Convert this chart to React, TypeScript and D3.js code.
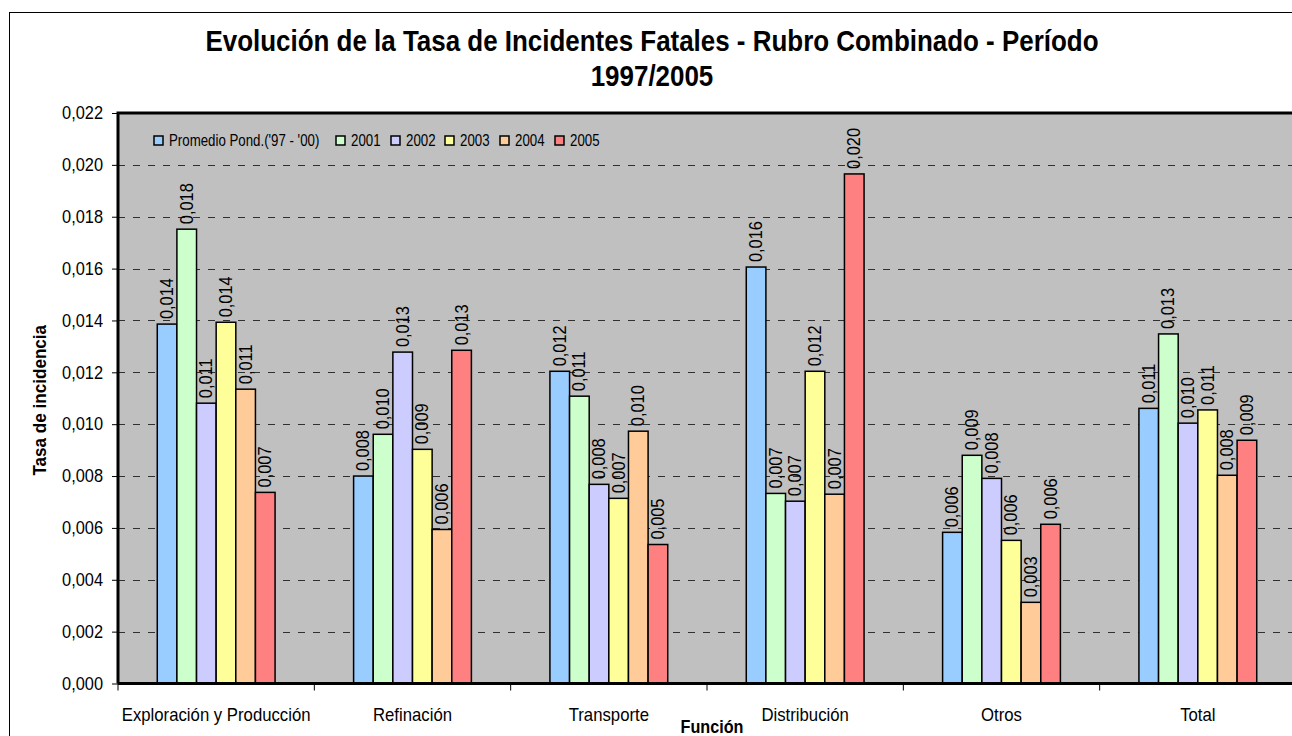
import React, {useEffect, useRef} from 'react'
import * as d3 from 'd3';

const categories = ['Exploración y Producción', 'Refinación', 'Transporte', 'Distribución', 'Otros', 'Total'];
const seriesNames = ["Promedio Pond.('97 - '00)", '2001', '2002', '2003', '2004', '2005'];
const seriesColors = ['#99CCFF', '#CCFFCC', '#CCCCFF', '#FFFF99', '#FFCC99', '#FF8080'];

// one array per series, in category order
const promedio = [0.01386, 0.0080, 0.01204, 0.01606, 0.00583, 0.01061];
const y2001 = [0.01752, 0.00961, 0.01108, 0.00733, 0.0088, 0.01348];
const y2002 = [0.01081, 0.01278, 0.00768, 0.00703, 0.00791, 0.01004];
const y2003 = [0.01393, 0.00903, 0.00714, 0.01204, 0.00552, 0.01055];
const y2004 = [0.01135, 0.00594, 0.00973, 0.0073, 0.00313, 0.00803];
const y2005 = [0.00737, 0.01285, 0.00536, 0.01965, 0.00614, 0.00938];

const yTicks = [0, 0.002, 0.004, 0.006, 0.008, 0.010, 0.012, 0.014, 0.016, 0.018, 0.020, 0.022];

const FONT = '"Liberation Sans", Arial, sans-serif';

export default function App(){
    const svgRef = useRef<SVGSVGElement>(null);

    const W = 1292, H = 736;
    const plot = {left: 118, top: 113, right: 1296, bottom: 683.5};

    useEffect(() => {
        const svg = d3.select(svgRef.current);
        svg.selectAll('*').remove();

        const series = [promedio, y2001, y2002, y2003, y2004, y2005];
        const data = categories.map((c, i) => ({
            cat: c,
            vals: series.map((s, j) => ({key: seriesNames[j], value: s[i], color: seriesColors[j]}))
        }));

        const xscale = d3.scaleBand()
            .domain(categories)
            .range([plot.left, plot.right])
            .padding(0);

        const groupW = xscale.bandwidth() * 0.6;
        const x1 = d3.scaleBand()
            .domain(seriesNames)
            .range([0, groupW])
            .padding(0);

        const yscale = d3.scaleLinear()
            .domain([0, 0.022])
            .range([plot.bottom, plot.top]);

        const fmt = (v: number) => d3.format('.3f')(v).replace('.', ',');

        // narrow text: the page has no Arial Narrow, so squeeze Liberation Sans
        const label = (parent: any, x: number, y: number, txt: string, opts: any = {}) =>
            parent.append('text')
                .attr('transform', `translate(${x},${y})${opts.rotate ? ' rotate(-90)' : ''} scale(${opts.sx || 0.9},1)`)
                .attr('text-anchor', opts.anchor || 'start')
                .attr('font-family', FONT)
                .attr('font-weight', opts.bold ? 'bold' : 'normal')
                .attr('font-size', (opts.size || 18) + 'px')
                .attr('fill', 'black')
                .text(txt);

        // outer chart border
        svg.append('rect')
            .attr('x', 9.5).attr('y', 12.5)
            .attr('width', W + 20).attr('height', H + 20)
            .attr('fill', 'white').attr('stroke', 'black').attr('stroke-width', 1);

        // title
        label(svg, 652, 51, 'Evolución de la Tasa de Incidentes Fatales - Rubro Combinado - Período',
            {anchor: 'middle', bold: true, size: 29, sx: 0.895});
        label(svg, 652, 86, '1997/2005', {anchor: 'middle', bold: true, size: 29, sx: 0.895});

        // plot area
        svg.append('rect')
            .attr('x', plot.left).attr('y', plot.top)
            .attr('width', plot.right - plot.left).attr('height', plot.bottom - plot.top)
            .attr('fill', '#C0C0C0');

        // gridlines
        svg.append('g')
            .selectAll('line')
            .data(yTicks.filter(t => t > 0 && t < 0.022))
            .join('line')
            .attr('x1', plot.left).attr('x2', plot.right)
            .attr('y1', d => Math.round(yscale(d)) + 0.5)
            .attr('y2', d => Math.round(yscale(d)) + 0.5)
            .attr('stroke', '#303030')
            .attr('stroke-width', 1)
            .attr('stroke-dasharray', '7,8');

        // bars
        const groups = svg.append('g')
            .selectAll('g')
            .data(data)
            .join('g')
            .attr('transform', d => `translate(${xscale(d.cat)! + (xscale.bandwidth() - groupW) / 2},0)`);

        groups.selectAll('rect')
            .data(d => d.vals)
            .join('rect')
            .attr('x', d => x1(d.key)!)
            .attr('y', d => yscale(d.value))
            .attr('width', x1.bandwidth())
            .attr('height', d => plot.bottom - yscale(d.value))
            .attr('fill', d => d.color)
            .attr('stroke', 'black')
            .attr('stroke-width', 1.5);

        // value labels (rotated)
        groups.selectAll('text')
            .data(d => d.vals)
            .join('text')
            .attr('transform', d => `translate(${x1(d.key)! + x1.bandwidth() / 2 + 6},${yscale(d.value) - 5}) rotate(-90) scale(0.91,1)`)
            .attr('font-family', FONT)
            .attr('font-size', '18px')
            .attr('fill', 'black')
            .text(d => fmt(d.value));

        // plot border
        svg.append('path')
            .attr('d', `M${plot.left},${plot.bottom} V${plot.top} H${plot.right + 10}`)
            .attr('fill', 'none').attr('stroke', 'black').attr('stroke-width', 3);

        // y axis
        const yaxis = d3.axisLeft(yscale)
            .tickValues(yTicks)
            .tickFormat(d => fmt(+d))
            .tickSize(6)
            .tickPadding(0);
        const yg = svg.append('g')
            .attr('transform', `translate(${plot.left},0)`)
            .call(yaxis);
        yg.select('.domain').remove();
        yg.selectAll('text')
            .attr('x', 0)
            .attr('transform', 'translate(-15,0) scale(0.91,1)')
            .attr('font-family', FONT)
            .attr('font-size', '18px')
            .attr('fill', 'black');
        yg.selectAll('line').attr('stroke', 'black');

        // x axis (ticks between categories)
        const boundaries = categories.map(c => xscale(c)!);
        svg.append('line')
            .attr('x1', plot.left).attr('x2', plot.right + 10)
            .attr('y1', plot.bottom).attr('y2', plot.bottom)
            .attr('stroke', 'black').attr('stroke-width', 3);
        svg.append('g')
            .selectAll('line')
            .data(boundaries)
            .join('line')
            .attr('x1', d => d).attr('x2', d => d)
            .attr('y1', plot.bottom).attr('y2', plot.bottom + 7)
            .attr('stroke', 'black').attr('stroke-width', 1);
        const xg = svg.append('g');
        categories.forEach(c => {
            label(xg, xscale(c)! + xscale.bandwidth() / 2, 721, c, {anchor: 'middle', sx: 0.93});
        });

        // axis titles
        label(svg, 712, 733, 'Función', {anchor: 'middle', bold: true, sx: 0.9});
        label(svg, 46, (plot.top + plot.bottom) / 2 + 2, 'Tasa de incidencia',
            {anchor: 'middle', bold: true, rotate: true, sx: 0.95});

        // legend
        const legendX = [154, 336, 391, 445, 500, 555];
        const lg = svg.append('g')
            .selectAll('g')
            .data(seriesNames)
            .join('g')
            .attr('transform', (d, i) => `translate(${legendX[i]},${136})`);
        lg.append('rect')
            .attr('width', 9).attr('height', 9)
            .attr('fill', (d, i) => seriesColors[i])
            .attr('stroke', 'black').attr('stroke-width', 1.5);
        lg.append('text')
            .attr('transform', 'translate(15,10) scale(0.83,1)')
            .attr('font-family', FONT)
            .attr('font-size', '16px')
            .attr('fill', 'black')
            .text(d => d);
    }, []);

    return (
        <svg
            ref={svgRef}
            width={W}
            height={H}
            style={{position: 'absolute', left: 0, top: 0, background: 'white'}}
        >
        </svg>
    );
}
